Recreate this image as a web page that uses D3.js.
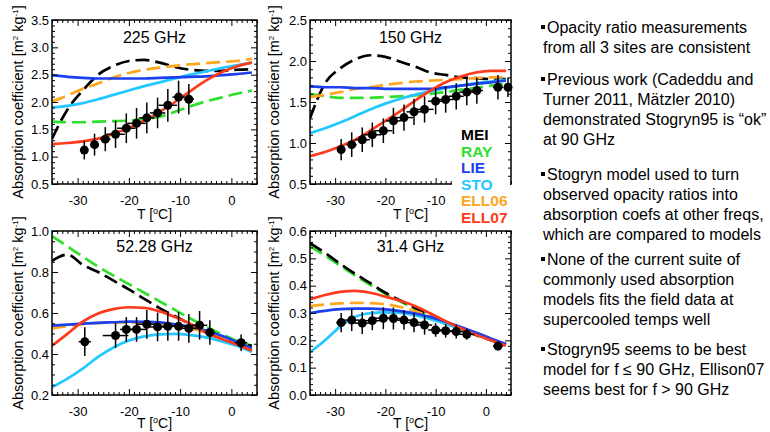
<!DOCTYPE html>
<html><head><meta charset="utf-8">
<script src="https://cdn.jsdelivr.net/npm/d3@7"></script>
<style>body{margin:0;background:#fff} svg{display:block;font-family:"Liberation Sans",Arial,Helvetica,sans-serif}</style>
</head><body>
<svg id="c" width="770" height="432"></svg>
<script>
// ---------------- DATA ----------------
const temps = [-35,-32,-29,-26,-23,-20,-17,-14,-11,-8,-5,-2,1,4];
const modelNames = ["MEI","RAY","LIE","STO","ELL06","ELL07"];
const panelTitles = ["225 GHz","150 GHz","52.28 GHz","31.4 GHz"];
const xTickLabels = [-30,-20,-10,0];
const yTicks225 = [0.5,1.0,1.5,2.0,2.5,3.0,3.5];
const yTicks150 = [0.5,1.0,1.5,2.0,2.5];
const yTicks52 = [0.2,0.4,0.6,0.8,1.0];
const yTicks31 = [0.0,0.1,0.2,0.3,0.4,0.5,0.6];

// 225 GHz models
const mei225   = [1.33,1.86,2.21,2.50,2.66,2.75,2.77,2.72,2.64,2.59,2.57,2.57,2.59,2.60];
const ray225   = [1.64,1.63,1.63,1.64,1.65,1.66,1.69,1.73,1.82,1.92,2.01,2.08,2.15,2.21];
const lie225   = [2.49,2.46,2.44,2.43,2.43,2.43,2.43,2.44,2.45,2.46,2.47,2.49,2.51,2.54];
const sto225   = [1.90,1.93,1.98,2.05,2.13,2.21,2.29,2.36,2.43,2.50,2.56,2.62,2.67,2.72];
const ell06_225= [2.01,2.12,2.24,2.34,2.45,2.53,2.59,2.63,2.66,2.69,2.71,2.73,2.75,2.79];
const ell07_225= [1.23,1.25,1.28,1.33,1.42,1.53,1.66,1.82,2.00,2.20,2.39,2.54,2.65,2.72];
// 150 GHz models
const mei150   = [1.30,1.73,1.91,2.02,2.07,2.05,1.99,1.93,1.86,1.83,1.80,1.79,1.78,1.78];
const ray150   = [1.60,1.57,1.55,1.55,1.55,1.56,1.57,1.58,1.60,1.62,1.65,1.67,1.70,1.72];
const lie150   = [1.69,1.68,1.68,1.67,1.67,1.66,1.66,1.66,1.66,1.68,1.70,1.72,1.74,1.76];
const sto150   = [1.12,1.18,1.25,1.33,1.41,1.48,1.54,1.59,1.63,1.67,1.70,1.73,1.75,1.77];
const ell06_150= [1.56,1.59,1.62,1.66,1.68,1.71,1.73,1.75,1.76,1.77,1.78,1.79,1.80,1.80];
const ell07_150= [0.84,0.89,0.96,1.04,1.15,1.27,1.39,1.52,1.64,1.74,1.81,1.86,1.88,1.88];
// 52.28 GHz models
const mei52    = [0.855,0.885,0.835,0.80,0.758,0.715,0.669,0.624,0.584,0.546,0.51,0.48,0.456,0.44];
const ray52    = [0.975,0.925,0.875,0.826,0.782,0.741,0.699,0.657,0.615,0.573,0.534,0.498,0.465,0.44];
const lie52    = [0.538,0.543,0.548,0.552,0.555,0.558,0.557,0.554,0.545,0.533,0.515,0.49,0.46,0.428];
const sto52    = [0.238,0.28,0.329,0.386,0.432,0.466,0.486,0.496,0.498,0.492,0.481,0.463,0.44,0.41];
const ell06_52 = [0.525,0.537,0.546,0.552,0.554,0.554,0.552,0.548,0.538,0.524,0.507,0.48,0.452,0.42];
const ell07_52 = [0.44,0.498,0.558,0.598,0.619,0.628,0.625,0.608,0.58,0.547,0.505,0.474,0.447,0.417];
// 31.4 GHz models
const mei31    = [0.556,0.52,0.48,0.443,0.409,0.374,0.346,0.317,0.29,0.266,0.241,0.22,0.2,0.186];
const ray31    = [0.545,0.51,0.473,0.437,0.403,0.37,0.342,0.315,0.289,0.265,0.241,0.221,0.202,0.188];
const lie31    = [0.30,0.308,0.314,0.316,0.316,0.313,0.307,0.298,0.285,0.268,0.249,0.229,0.207,0.186];
const sto31    = [0.156,0.2,0.25,0.286,0.299,0.302,0.3,0.291,0.277,0.26,0.242,0.222,0.202,0.185];
const ell06_31 = [0.325,0.331,0.335,0.337,0.336,0.332,0.322,0.306,0.287,0.266,0.245,0.224,0.204,0.183];
const ell07_31 = [0.35,0.366,0.377,0.381,0.374,0.36,0.345,0.325,0.298,0.27,0.244,0.22,0.2,0.18];

// observations (T, value, value error, T error)
const obsT225 = [-28.7,-26.7,-24.6,-22.6,-20.5,-18.5,-16.5,-14.4,-12.4,-10.3,-8.3];
const obsV225 = [1.12,1.22,1.32,1.41,1.52,1.61,1.71,1.80,1.94,2.09,2.05];
const errV225 = [0.17,0.2,0.22,0.25,0.27,0.28,0.28,0.28,0.3,0.3,0.28];
const errT225 = [0.6,0.8,1.0,1.8,1.8,1.8,1.5,1.5,1.8,1.2,1.0];
const obsT150 = [-28.8,-26.7,-24.6,-22.6,-20.4,-18.4,-16.3,-14.3,-12.2,-10.0,-8.0,-5.9,-3.8,-1.8,2.4,4.4];
const obsV150 = [0.92,0.98,1.04,1.10,1.15,1.27,1.31,1.38,1.41,1.51,1.53,1.57,1.62,1.64,1.68,1.68];
const errV150 = [0.13,0.15,0.15,0.15,0.15,0.16,0.16,0.16,0.16,0.16,0.16,0.16,0.16,0.16,0.15,0.12];
const errT150 = [0.8,1.0,1.5,1.8,1.8,1.5,1.8,1.5,1.8,1.5,1.5,1.5,1.5,1.2,1.0,0.5];
const obsT52 = [-28.6,-22.6,-20.5,-18.5,-16.5,-14.4,-12.4,-10.3,-8.3,-6.2,-4.2,1.9];
const obsV52 = [0.46,0.49,0.52,0.52,0.545,0.532,0.535,0.535,0.525,0.54,0.505,0.455];
const errV52 = [0.07,0.06,0.06,0.06,0.07,0.07,0.07,0.07,0.07,0.07,0.06,0.04];
const errT52 = [1.2,2.5,1.2,2.0,2.0,2.0,2.0,2.0,1.5,1.5,1.0,1.2];
const obsT31 = [-28.8,-26.7,-24.6,-22.6,-20.4,-18.4,-16.3,-14.3,-12.2,-10.0,-8.0,-5.9,-3.8,2.4];
const obsV31 = [0.265,0.274,0.263,0.272,0.281,0.28,0.274,0.265,0.256,0.238,0.235,0.232,0.222,0.179];
const errV31 = [0.035,0.04,0.04,0.035,0.04,0.04,0.035,0.035,0.035,0.025,0.025,0.025,0.02,0.015];
const errT31 = [1.0,1.5,1.5,2.0,2.0,2.0,2.0,2.0,1.5,1.5,1.5,1.5,1.5,1.0];

const bulletText = [
  ["Opacity ratio measurements","from all 3 sites are consistent"],
  ["Previous work (Cadeddu and","Turner 2011, Mätzler 2010)","demonstrated Stogryn95 is “ok”","at 90 GHz"],
  ["Stogryn model used to turn","observed opacity ratios into","absorption coefs at other freqs,","which are compared to models"],
  ["None of the current suite of","commonly used absorption","models fits the field data at","supercooled temps well"],
  ["Stogryn95 seems to be best","model for f ≤ 90 GHz, Ellison07","seems best for f > 90 GHz"]
];

// ---------------- STYLE ----------------
const modelColor = {MEI:"#000000",RAY:"#2ee02a",LIE:"#1c3ff0",STO:"#22c8ff",ELL06:"#ffa51e",ELL07:"#ff3a1c"};
const modelDash = {MEI:"14,6",RAY:"14,6",LIE:null,STO:null,ELL06:"14,6",ELL07:null};
const drawOrder = ["RAY","MEI","ELL06","STO","LIE","ELL07"];

const panels = [
  {title:panelTitles[0], models:{MEI:mei225,RAY:ray225,LIE:lie225,STO:sto225,ELL06:ell06_225,ELL07:ell07_225},
   oT:obsT225,oV:obsV225,eV:errV225,eT:errT225, yDom:[0.5,3.5], yTicks:yTicks225, yMinor:0.1,
   x0:52,x1:257,y0:20,y1:184, titleY:43, ylabX:18, xLabels:xTickLabels},
  {title:panelTitles[1], models:{MEI:mei150,RAY:ray150,LIE:lie150,STO:sto150,ELL06:ell06_150,ELL07:ell07_150},
   oT:obsT150,oV:obsV150,eV:errV150,eT:errT150, yDom:[0.5,2.5], yTicks:yTicks150, yMinor:0.1,
   x0:310,x1:511,y0:20,y1:184, titleY:43, ylabX:274, xLabels:xTickLabels.slice(0,3)},
  {title:panelTitles[2], models:{MEI:mei52,RAY:ray52,LIE:lie52,STO:sto52,ELL06:ell06_52,ELL07:ell07_52},
   oT:obsT52,oV:obsV52,eV:errV52,eT:errT52, yDom:[0.2,1.0], yTicks:yTicks52, yMinor:0.05,
   x0:52,x1:257,y0:231,y1:395, titleY:252, ylabX:18, xLabels:xTickLabels},
  {title:panelTitles[3], models:{MEI:mei31,RAY:ray31,LIE:lie31,STO:sto31,ELL06:ell06_31,ELL07:ell07_31},
   oT:obsT31,oV:obsV31,eV:errV31,eT:errT31, yDom:[0.0,0.6], yTicks:yTicks31, yMinor:0.02,
   x0:310,x1:511,y0:231,y1:395, titleY:252, ylabX:274, xLabels:xTickLabels}
];

const svg = d3.select("#c");
svg.append("rect").attr("width",770).attr("height",432).attr("fill","#fff");

panels.forEach((p,pi)=>{
  const x = d3.scaleLinear().domain([-35,5]).range([p.x0,p.x1]);
  const y = d3.scaleLinear().domain(p.yDom).range([p.y1,p.y0]);
  const g = svg.append("g");
  const cid = "clip"+pi;
  svg.append("clipPath").attr("id",cid).append("rect")
    .attr("x",p.x0).attr("y",p.y0).attr("width",p.x1-p.x0).attr("height",p.y1-p.y0);

  const line = d3.line().x((d,i)=>x(temps[i])).y(d=>y(d)).curve(d3.curveMonotoneX);
  const cg = g.append("g").attr("clip-path",`url(#${cid})`);
  drawOrder.forEach(m=>{
    cg.append("path").datum(p.models[m]).attr("d",line)
      .attr("fill","none").attr("stroke",modelColor[m]).attr("stroke-width",2.7)
      .attr("stroke-dasharray",modelDash[m]);
  });

  // observations
  const og = g.append("g");
  p.oT.forEach((t,i)=>{
    const v=p.oV[i];
    og.append("line").attr("x1",x(t)).attr("x2",x(t)).attr("y1",y(v-p.eV[i])).attr("y2",y(v+p.eV[i]))
      .attr("stroke","#000").attr("stroke-width",1.5);
    og.append("line").attr("x1",x(t-p.eT[i])).attr("x2",x(t+p.eT[i])).attr("y1",y(v)).attr("y2",y(v))
      .attr("stroke","#000").attr("stroke-width",1.5);
    og.append("circle").attr("cx",x(t)).attr("cy",y(v)).attr("r",4.5).attr("fill","#000");
  });

  // axes (ticks inward on all four sides)
  const xMinor = d3.range(-35,6,1).filter(v=>v%10!==0);
  const yMinor = d3.range(Math.round(p.yDom[0]/p.yMinor), Math.round(p.yDom[1]/p.yMinor)+1)
      .map(k=>+(k*p.yMinor).toFixed(3)).filter(v=>!p.yTicks.some(t=>Math.abs(t-v)<1e-6));
  const styleAxis = a => { a.select(".domain").remove(); a.selectAll("line").attr("stroke","#000").attr("stroke-width",1); a.selectAll("text").attr("font-size",13).attr("font-family","Liberation Sans, Arial, sans-serif").attr("fill","#000"); };

  const bottom = g.append("g").attr("transform",`translate(0,${p.y1})`)
    .call(d3.axisBottom(x).tickValues(p.xLabels).tickSizeInner(-6).tickSizeOuter(0).tickPadding(12).tickFormat(d3.format("d")));
  styleAxis(bottom);
  bottom.selectAll("text").text(d=>d<0?"-"+Math.abs(d):d);
  const bottomMinor = g.append("g").attr("transform",`translate(0,${p.y1})`)
    .call(d3.axisBottom(x).tickValues(xMinor).tickSizeInner(-3).tickSizeOuter(0).tickFormat(""));
  styleAxis(bottomMinor);
  const top = g.append("g").attr("transform",`translate(0,${p.y0})`)
    .call(d3.axisTop(x).tickValues(xTickLabels).tickSizeInner(-6).tickSizeOuter(0).tickFormat(""));
  styleAxis(top);
  const topMinor = g.append("g").attr("transform",`translate(0,${p.y0})`)
    .call(d3.axisTop(x).tickValues(xMinor).tickSizeInner(-3).tickSizeOuter(0).tickFormat(""));
  styleAxis(topMinor);

  const left = g.append("g").attr("transform",`translate(${p.x0},0)`)
    .call(d3.axisLeft(y).tickValues(p.yTicks).tickSizeInner(-6).tickSizeOuter(0).tickPadding(3).tickFormat(d3.format(".1f")));
  styleAxis(left);
  const leftMinor = g.append("g").attr("transform",`translate(${p.x0},0)`)
    .call(d3.axisLeft(y).tickValues(yMinor).tickSizeInner(-3).tickSizeOuter(0).tickFormat(""));
  styleAxis(leftMinor);
  const right = g.append("g").attr("transform",`translate(${p.x1},0)`)
    .call(d3.axisRight(y).tickValues(p.yTicks).tickSizeInner(-6).tickSizeOuter(0).tickFormat(""));
  styleAxis(right);
  const rightMinor = g.append("g").attr("transform",`translate(${p.x1},0)`)
    .call(d3.axisRight(y).tickValues(yMinor).tickSizeInner(-3).tickSizeOuter(0).tickFormat(""));
  styleAxis(rightMinor);

  g.append("rect").attr("x",p.x0).attr("y",p.y0).attr("width",p.x1-p.x0).attr("height",p.y1-p.y0)
    .attr("fill","none").attr("stroke","#000").attr("stroke-width",1.5);

  // title
  g.append("text").attr("x",(p.x0+p.x1)/2).attr("y",p.titleY).attr("text-anchor","middle")
    .attr("font-size",16).text(p.title);
  // x label
  const xl = g.append("text").attr("x",(p.x0+p.x1)/2).attr("y",Math.min(p.y1+35,428)).attr("text-anchor","middle").attr("font-size",14);
  xl.append("tspan").text("T [");
  xl.append("tspan").attr("font-size",9).attr("dy",-5).text("o");
  xl.append("tspan").attr("dy",5).text("C]");
  // y label
  const yl = g.append("text").attr("transform",`translate(${p.ylabX+5},${(p.y0+p.y1)/2}) rotate(-90)`)
    .attr("text-anchor","middle").attr("font-size",14.5);
  yl.append("tspan").text("Absorption coefficient [m");
  yl.append("tspan").attr("font-size",8).attr("dy",-5).text("2");
  yl.append("tspan").attr("dy",5).text(" kg");
  yl.append("tspan").attr("font-size",8).attr("dy",-5).text("-1");
  yl.append("tspan").attr("dy",5).text("]");
});

// legend (in 150 GHz panel)
svg.append("rect").attr("x",452).attr("y",177).attr("width",58).attr("height",50).attr("fill","#fff");
modelNames.forEach((m,i)=>{
  svg.append("text").attr("x",461).attr("y",140+i*16.6).attr("font-size",15.5).attr("font-weight","bold")
    .attr("fill",modelColor[m]).text(m);
});

// bullet text
const lineH = 20;
const bulletStart = [33,85,180,265,355];
bulletText.forEach((lines,bi)=>{
  const b0 = bulletStart[bi];
  svg.append("rect").attr("x",541).attr("y",b0-8).attr("width",4).attr("height",4).attr("fill","#000");
  lines.forEach((l,li)=>{
    svg.append("text").attr("x",li===0?547:543).attr("y",b0+li*lineH).attr("font-size",16).attr("fill","#000").text(l);
  });
});
</script>
</body></html>
